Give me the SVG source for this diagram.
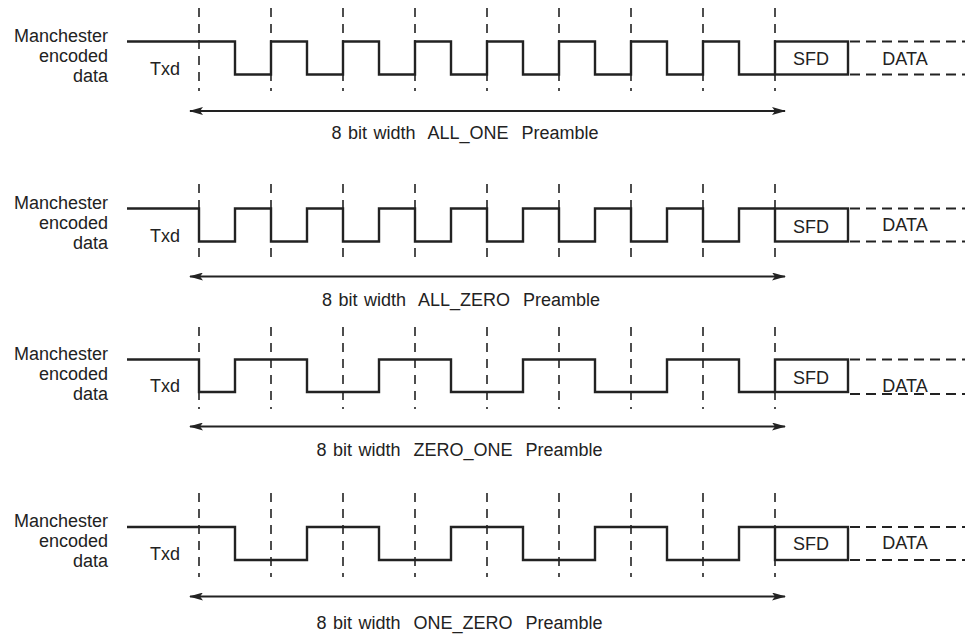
<svg xmlns="http://www.w3.org/2000/svg" width="965" height="634" viewBox="0 0 965 634">
<style>
text{font-family:"Liberation Sans",Arial,sans-serif;font-size:18px;fill:#222}
.r{text-anchor:end}
.m{text-anchor:middle}
.sig{fill:none;stroke:#222;stroke-width:2.4;stroke-linejoin:miter}
.box{fill:none;stroke:#222;stroke-width:2.4}
.dv{stroke:#222;stroke-width:1.6;stroke-dasharray:9 7}
.dd{stroke:#222;stroke-width:2.2;stroke-dasharray:10 6}
.arr{stroke:#222;stroke-width:2;marker-start:url(#ah);marker-end:url(#ah)}
</style>
<defs>
<marker id="ah" viewBox="0 0 14 8" refX="13" refY="4" markerWidth="14" markerHeight="8" markerUnits="userSpaceOnUse" orient="auto-start-reverse">
<path d="M0,0 L14,4 L0,8 L3,4 Z" fill="#222"/>
</marker>
</defs>

<!-- Row 1 -->
<g id="row1">
<text class="r" x="108" y="41.5">Manchester</text>
<text class="r" x="108" y="61.5">encoded</text>
<text class="r" x="108" y="81.5">data</text>
<text x="150" y="75">Txd</text>
<g id="grid1">
<line class="dv" x1="199" y1="8" x2="199" y2="91"/>
<line class="dv" x1="271" y1="8" x2="271" y2="91"/>
<line class="dv" x1="343" y1="8" x2="343" y2="91"/>
<line class="dv" x1="415" y1="8" x2="415" y2="91"/>
<line class="dv" x1="487" y1="8" x2="487" y2="91"/>
<line class="dv" x1="559" y1="8" x2="559" y2="91"/>
<line class="dv" x1="631" y1="8" x2="631" y2="91"/>
<line class="dv" x1="703" y1="8" x2="703" y2="91"/>
<line class="dv" x1="775" y1="8" x2="775" y2="91"/>
</g>
<path class="sig" d="M127,41.5 H235 V74.5 H271 V41.5 H307 V74.5 H343 V41.5 H379 V74.5 H415 V41.5 H451 V74.5 H487 V41.5 H523 V74.5 H559 V41.5 H595 V74.5 H631 V41.5 H667 V74.5 H703 V41.5 H739 V74.5 H775"/>
<g id="sfd1"><rect class="box" x="775" y="41.5" width="73" height="33"/><text class="m" x="811" y="65">SFD</text></g>
<g id="data1"><line class="dd" x1="850" y1="41.5" x2="965" y2="41.5"/><line class="dd" x1="850" y1="74.5" x2="965" y2="74.5"/><text class="m" x="905" y="65">DATA</text></g>
<line class="arr" x1="190" y1="111" x2="785" y2="111"/>
<text class="m" x="465" y="139" xml:space="preserve" style="word-spacing:1.5px">8 bit width  ALL_ONE  Preamble</text>
</g>

<!-- Row 2 -->
<g id="row2">
<text class="r" x="108" y="208.5">Manchester</text>
<text class="r" x="108" y="228.5">encoded</text>
<text class="r" x="108" y="248.5">data</text>
<text x="150" y="241.5">Txd</text>
<g id="grid2">
<line class="dv" x1="199" y1="184" x2="199" y2="258"/>
<line class="dv" x1="271" y1="184" x2="271" y2="258"/>
<line class="dv" x1="343" y1="184" x2="343" y2="258"/>
<line class="dv" x1="415" y1="184" x2="415" y2="258"/>
<line class="dv" x1="487" y1="184" x2="487" y2="258"/>
<line class="dv" x1="559" y1="184" x2="559" y2="258"/>
<line class="dv" x1="631" y1="184" x2="631" y2="258"/>
<line class="dv" x1="703" y1="184" x2="703" y2="258"/>
<line class="dv" x1="775" y1="184" x2="775" y2="258"/>
</g>
<path class="sig" d="M127,208.5 H199 V241.5 H235 V208.5 H271 V241.5 H307 V208.5 H343 V241.5 H379 V208.5 H415 V241.5 H451 V208.5 H487 V241.5 H523 V208.5 H559 V241.5 H595 V208.5 H631 V241.5 H667 V208.5 H703 V241.5 H739 V208.5 H775"/>
<g id="sfd2"><rect class="box" x="775" y="208.5" width="73" height="33"/><text class="m" x="811" y="232.5">SFD</text></g>
<g id="data2"><line class="dd" x1="850" y1="208.5" x2="965" y2="208.5"/><line class="dd" x1="850" y1="241.5" x2="965" y2="241.5"/><text class="m" x="905" y="231">DATA</text></g>
<line class="arr" x1="190" y1="276.5" x2="785" y2="276.5"/>
<text class="m" x="461" y="305.5" xml:space="preserve" style="word-spacing:1.5px">8 bit width  ALL_ZERO  Preamble</text>
</g>

<!-- Row 3 -->
<g id="row3">
<text class="r" x="108" y="359.5">Manchester</text>
<text class="r" x="108" y="379.5">encoded</text>
<text class="r" x="108" y="399.5">data</text>
<text x="150" y="392">Txd</text>
<g id="grid3">
<line class="dv" x1="199" y1="327" x2="199" y2="409"/>
<line class="dv" x1="271" y1="327" x2="271" y2="409"/>
<line class="dv" x1="343" y1="327" x2="343" y2="409"/>
<line class="dv" x1="415" y1="327" x2="415" y2="409"/>
<line class="dv" x1="487" y1="327" x2="487" y2="409"/>
<line class="dv" x1="559" y1="327" x2="559" y2="409"/>
<line class="dv" x1="631" y1="327" x2="631" y2="409"/>
<line class="dv" x1="703" y1="327" x2="703" y2="409"/>
<line class="dv" x1="775" y1="327" x2="775" y2="409"/>
</g>
<path class="sig" d="M127,359.5 H199 V392 H235 V359.5 H307 V392 H379 V359.5 H451 V392 H523 V359.5 H595 V392 H667 V359.5 H739 V392 H775"/>
<g id="sfd3"><rect class="box" x="775" y="359.5" width="73" height="32.5"/><text class="m" x="811" y="383.5">SFD</text></g>
<g id="data3"><line class="dd" x1="850" y1="359.5" x2="965" y2="359.5"/><line class="dd" x1="850" y1="394" x2="965" y2="394"/><text class="m" x="905" y="391.5">DATA</text></g>
<line class="arr" x1="190" y1="426.5" x2="785" y2="426.5"/>
<text class="m" x="459.5" y="456" xml:space="preserve" style="word-spacing:1.5px">8 bit width  ZERO_ONE  Preamble</text>
</g>

<!-- Row 4 -->
<g id="row4">
<text class="r" x="108" y="527">Manchester</text>
<text class="r" x="108" y="547">encoded</text>
<text class="r" x="108" y="567">data</text>
<text x="150" y="560">Txd</text>
<g id="grid4">
<line class="dv" x1="199" y1="493" x2="199" y2="577"/>
<line class="dv" x1="271" y1="493" x2="271" y2="577"/>
<line class="dv" x1="343" y1="493" x2="343" y2="577"/>
<line class="dv" x1="415" y1="493" x2="415" y2="577"/>
<line class="dv" x1="487" y1="493" x2="487" y2="577"/>
<line class="dv" x1="559" y1="493" x2="559" y2="577"/>
<line class="dv" x1="631" y1="493" x2="631" y2="577"/>
<line class="dv" x1="703" y1="493" x2="703" y2="577"/>
<line class="dv" x1="775" y1="493" x2="775" y2="577"/>
</g>
<path class="sig" d="M127,527 H235 V560 H307 V527 H379 V560 H451 V527 H523 V560 H595 V527 H667 V560 H739 V527 H775"/>
<g id="sfd4"><rect class="box" x="775" y="527" width="73" height="33"/><text class="m" x="811" y="550">SFD</text></g>
<g id="data4"><line class="dd" x1="850" y1="527" x2="965" y2="527"/><line class="dd" x1="850" y1="560" x2="965" y2="560"/><text class="m" x="905" y="548.5">DATA</text></g>
<line class="arr" x1="190" y1="596.5" x2="785" y2="596.5"/>
<text class="m" x="459.5" y="629" xml:space="preserve" style="word-spacing:1.5px">8 bit width  ONE_ZERO  Preamble</text>
</g>
</svg>
